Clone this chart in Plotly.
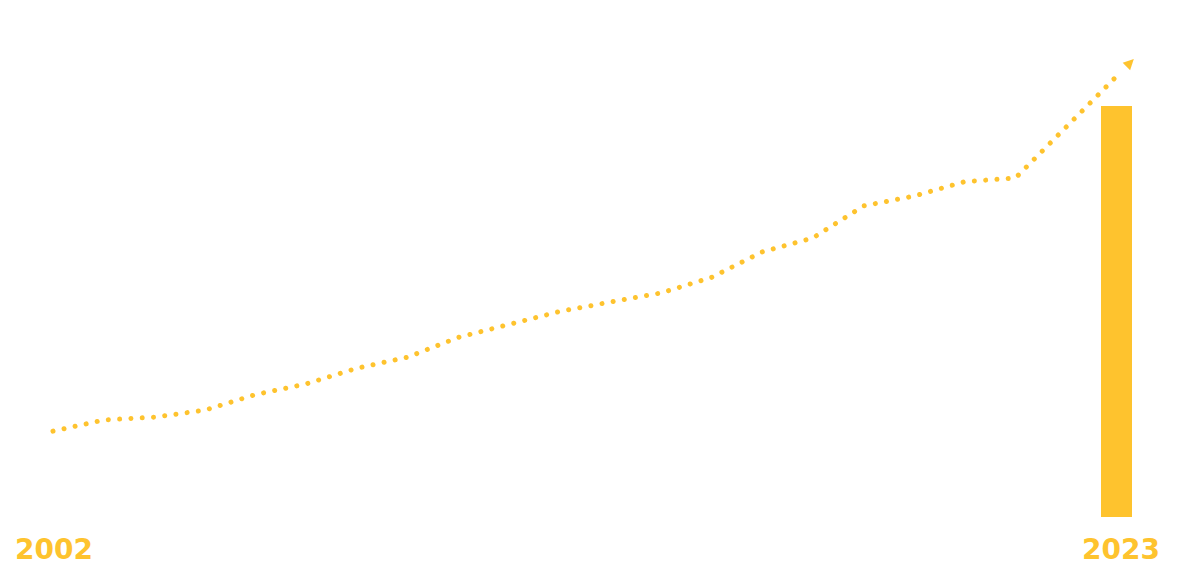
import plotly.graph_objects as go

# ---- data ----
years = list(range(2002, 2024))
trend = [20.9, 23.6, 24.3, 26.0, 29.8, 32.4, 36.2, 38.9, 43.7, 46.8, 50.0,
         52.3, 54.5, 58.3, 64.5, 67.9, 75.7, 78.1, 81.6, 82.5, 94.9, 107.3]
bar_year = [2023]
bar_value = [100]
label_years = [2002, 2023]
label_text = ["2002", "2023"]

YELLOW = "#FEC32E"

fig = go.Figure()

fig.add_trace(go.Bar(
    x=bar_year, y=bar_value, width=0.612,
    marker=dict(color=YELLOW, line=dict(width=0)),
    hoverinfo="skip", showlegend=False,
))

fig.add_trace(go.Scatter(
    x=years, y=trend, mode="lines",
    line=dict(color=YELLOW, width=5, dash="5px,6.3px"),
    hoverinfo="skip", showlegend=False,
))

# arrow head at the end of the trend line
fig.add_annotation(
    x=years[-1], y=trend[-1], xref="x", yref="y",
    xshift=17, yshift=17, ax=-5, ay=5,
    text="", showarrow=True, arrowhead=2, arrowsize=2.1, arrowwidth=1,
    arrowcolor=YELLOW,
)

for yr, txt, sh in zip(label_years, label_text, [1, 4]):
    fig.add_annotation(
        x=yr, y=0, xref="x", yref="paper", yanchor="bottom", xanchor="center",
        yshift=-50, xshift=sh, text=txt, showarrow=False, borderpad=0,
        font=dict(family="DejaVu Sans", size=28, color=YELLOW, weight="bold"),
    )

fig.update_layout(
    width=1200, height=565,
    margin=dict(l=0, r=0, t=0, b=48, pad=0),
    paper_bgcolor="white", plot_bgcolor="white",
    xaxis=dict(range=[2000.954, 2024.642], visible=False, fixedrange=True),
    yaxis=dict(range=[0, 125.8], visible=False, fixedrange=True),
    bargap=0,
)

post = """
document.body.style.margin='0';
var gd = document.getElementById('{plot_id}');
gd.querySelectorAll('.scatterlayer .js-line').forEach(function(p){
  p.style.strokeLinecap='round';
  p.style.strokeDasharray='0.01px,11.3px';
});
"""

fig.write_html("out.html", post_script=post, config={"displayModeBar": False})
